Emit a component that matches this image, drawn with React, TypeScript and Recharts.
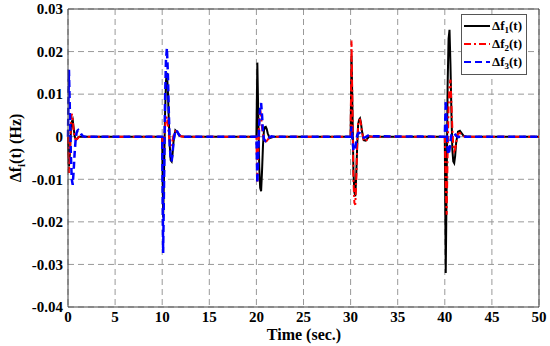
import React from 'react';
import { LineChart, Line, XAxis, YAxis, CartesianGrid, ReferenceLine, Legend } from 'recharts';

const FONT = '"Liberation Serif", "Times New Roman", serif';

// sample times (sec.) around each disturbance at 0, 10, 20, 30, 40 s
const time = [
  0, 0.1, 0.2, 0.3, 0.4, 0.5, 0.6, 0.7, 0.8, 0.9, 1, 1.1, 1.2, 1.4, 1.6, 1.8, 2, 2.4,
  10, 10.1, 10.2, 10.3, 10.4, 10.5, 10.6, 10.7, 10.8, 10.9, 11, 11.1, 11.2, 11.4, 11.6, 11.8, 12, 12.4,
  20, 20.1, 20.2, 20.3, 20.4, 20.5, 20.6, 20.7, 20.8, 20.9, 21, 21.1, 21.2, 21.4, 21.6, 21.8, 22, 22.4,
  30, 30.1, 30.2, 30.3, 30.4, 30.5, 30.6, 30.7, 30.8, 30.9, 31, 31.1, 31.2, 31.4, 31.6, 31.8, 32, 32.4,
  40, 40.1, 40.2, 40.3, 40.4, 40.5, 40.6, 40.7, 40.8, 40.9, 41, 41.1, 41.2, 41.4, 41.6, 41.8, 42, 42.4,
  50,
];

// Δf1(t)
const df1 = [
  0, -0.007, -0.004, 0.001, 0.0035, 0.004, 0.002, 0.0002, -0.0005, -0.0006, -0.0004, -0.0001, 0, 0, 0, 0, 0, 0,
  0, -0.019, -0.008, 0.005, 0.013, 0.015, 0.011, 0.004, -0.002, -0.0055, -0.0058, -0.004, -0.0012, 0.0015, 0.0011, 0.0004, 0.0001, 0,
  0, 0.0174, 0.005, -0.007, -0.012, -0.0128, -0.008, -0.002, 0.0015, 0.0022, 0.0023, 0.0018, 0.0008, -0.0003, -0.0002, 0, 0, 0,
  0, 0.019, 0.006, -0.008, -0.013, -0.014, -0.009, -0.002, 0.0028, 0.004, 0.0043, 0.0033, 0.0014, -0.0008, -0.0009, -0.0004, 0.0001, 0,
  0, -0.032, -0.01, 0.012, 0.023, 0.0251, 0.017, 0.006, -0.003, -0.0058, -0.0062, -0.0045, -0.0015, 0.0012, 0.0014, 0.0008, 0.0002, 0,
  0,
];

// Δf2(t)
const df2 = [
  0, -0.0085, -0.004, 0.003, 0.0054, 0.004, 0.0015, -0.0002, -0.0006, -0.0007, -0.0005, -0.0002, 0, 0, 0, 0, 0, 0,
  0, -0.0026, -0.001, 0.002, 0.0042, 0.0047, 0.003, 0.0005, -0.0012, -0.002, -0.0018, -0.0008, 0.0003, 0.0013, 0.001, 0.0004, 0.0001, 0,
  0, -0.0105, -0.003, 0.004, 0.0063, 0.005, 0.002, 0.0003, -0.0005, -0.0009, -0.0011, -0.001, -0.0007, -0.0002, 0, 0, 0, 0,
  0, 0.0226, 0.006, -0.01, -0.0155, -0.016, -0.01, -0.002, 0.003, 0.0039, 0.004, 0.003, 0.0012, -0.0009, -0.0011, -0.0005, 0, 0,
  0, -0.012, -0.0183, -0.004, 0.007, 0.012, 0.0134, 0.008, 0.002, -0.002, -0.0034, -0.003, -0.0015, 0.0007, 0.0009, 0.0004, 0.0001, 0,
  0,
];

// Δf3(t)
const df3 = [
  0, 0.0157, 0.006, -0.004, -0.01, -0.0113, -0.008, -0.004, -0.001, 0.0008, 0.0014, 0.0016, 0.0014, 0.0006, 0.0001, 0, 0, 0,
  0, -0.0273, -0.01, 0.008, 0.018, 0.0208, 0.015, 0.006, -0.002, -0.0052, -0.0058, -0.004, -0.001, 0.0016, 0.0012, 0.0004, 0.0001, 0,
  0, -0.0109, -0.004, 0.003, 0.007, 0.0079, 0.005, 0.001, -0.0005, -0.0009, -0.0011, -0.001, -0.0007, -0.0001, 0.0001, 0, 0, 0,
  0, 0.0024, -0.001, -0.003, -0.0034, -0.0025, -0.001, 0.0003, 0.0008, 0.0009, 0.0008, 0.0005, 0.0002, -0.0002, -0.0001, 0.0002, 0.0004, 0.0001,
  0, 0.0085, 0.002, -0.003, -0.0042, -0.003, -0.001, 0.0004, 0.0008, 0.0009, 0.0008, 0.0005, 0.0002, -0.0001, 0, 0, 0, 0,
  0,
];

const xTicks = [0, 5, 10, 15, 20, 25, 30, 35, 40, 45, 50];
const yTicks = [-0.04, -0.03, -0.02, -0.01, 0, 0.01, 0.02, 0.03];

const data = time.map((t, i) => ({ t, f1: df1[i], f2: df2[i], f3: df3[i] }));

const series = [
  { key: 'f1', sub: '1', color: '#000000', dash: undefined, width: 2 },
  { key: 'f2', sub: '2', color: '#ff0000', dash: '7 3 2 3', width: 2 },
  { key: 'f3', sub: '3', color: '#0000ff', dash: '7 4', width: 2.5 },
];

const tickStyle = { fill: '#000', fontSize: 15, fontWeight: 'bold', fontFamily: FONT };

function LegendBox() {
  return (
    <div
      style={{
        border: '1px solid #555',
        background: '#fff',
        padding: '2px 4px 3px 2px',
        fontFamily: FONT,
        fontWeight: 'bold',
        fontSize: 13,
        lineHeight: '18px',
      }}
    >
      {series.map((s) => (
        <div key={s.key} style={{ display: 'flex', alignItems: 'center', height: 18 }}>
          <svg width={26} height={6} style={{ marginRight: 2 }}>
            <line x1={0} y1={3} x2={26} y2={3} stroke={s.color} strokeWidth={2} strokeDasharray={s.dash} />
          </svg>
          <span>
            Δf<span style={{ fontSize: 9, position: 'relative', top: 3 }}>{s.sub}</span>(t)
          </span>
        </div>
      ))}
    </div>
  );
}

function YLabel() {
  return (
    <text
      x={0}
      y={0}
      transform="translate(21, 148) rotate(-90)"
      textAnchor="middle"
      fontFamily={FONT}
      fontWeight="bold"
      fontSize={16}
      fill="#000"
    >
      Δf<tspan dy={4} fontSize={11}>i</tspan>
      <tspan dy={-4}>(t) (Hz)</tspan>
    </text>
  );
}

function XLabel() {
  return (
    <text x={304} y={340} textAnchor="middle" fontFamily={FONT} fontWeight="bold" fontSize={16} fill="#000">
      Time (sec.)
    </text>
  );
}

export default function App() {
  return (
    <div style={{ position: 'absolute', left: 0, top: 0, width: 550, height: 346, background: '#fff' }}>
      <LineChart width={550} height={346} data={data} margin={{ top: 9, right: 11, bottom: 0, left: 0 }}>
        <CartesianGrid stroke="#999" strokeDasharray="6 4" />
        <XAxis
          dataKey="t"
          type="number"
          domain={[0, 50]}
          ticks={xTicks}
          interval={0}
          height={39}
          tickLine={false}
          tickSize={0}
          tickMargin={4}
          tick={tickStyle}
          axisLine={{ stroke: '#444' }}
          label={<XLabel />}
        />
        <YAxis
          type="number"
          domain={[-0.04, 0.03]}
          ticks={yTicks}
          interval={0}
          width={68}
          tickLine={false}
          tickSize={0}
          tickMargin={5}
          tick={tickStyle}
          axisLine={{ stroke: '#444' }}
          tickFormatter={(v: number) => String(Number(v.toFixed(2)))}
          label={<YLabel />}
        />
        <ReferenceLine y={0.03} stroke="#444" />
        <ReferenceLine x={50} stroke="#444" />
        {series.map((s) => (
          <Line
            key={s.key}
            dataKey={s.key}
            type="linear"
            stroke={s.color}
            strokeWidth={s.width}
            strokeDasharray={s.dash}
            dot={false}
            isAnimationActive={false}
          />
        ))}
        <Legend
          layout="horizontal"
          verticalAlign="middle"
          align="center"
          wrapperStyle={{ left: 461, top: 14, width: 'auto', height: 'auto' }}
          content={() => <LegendBox />}
        />
      </LineChart>
    </div>
  );
}
